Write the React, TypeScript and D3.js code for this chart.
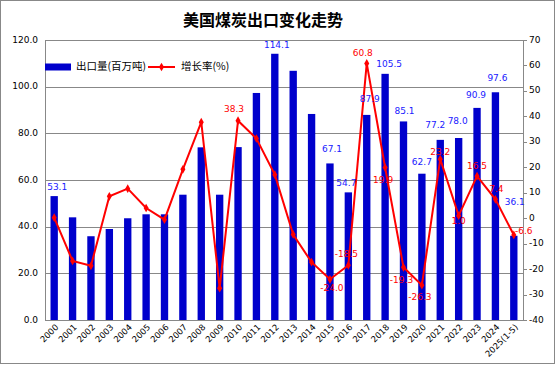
import React from "react";
import * as d3 from "d3";

// data
const years = ["2000", "2001", "2002", "2003", "2004", "2005", "2006", "2007", "2008", "2009", "2010", "2011", "2012", "2013", "2014", "2015", "2016", "2017", "2018", "2019", "2020", "2021", "2022", "2023", "2024", "2025(1-5)"];
const exports = [53.1, 44.0, 35.9, 39.0, 43.6, 45.3, 45.3, 53.7, 74.0, 53.7, 74.1, 97.3, 114.1, 106.8, 88.3, 67.1, 54.7, 87.9, 105.5, 85.1, 62.7, 77.2, 78.0, 90.9, 97.6, 36.1];
const growth = [0.2, -16.8, -18.7, 8.6, 11.6, 4.0, -0.6, 19.2, 37.7, -27.5, 38.3, 31.3, 17.1, -6.4, -17.3, -24.0, -18.5, 60.8, 19.9, -19.3, -26.3, 23.2, 1.0, 16.5, 7.4, -6.6];
const leftTicks = [0, 20, 40, 60, 80, 100, 120];
const rightTicks = [-40, -30, -20, -10, 0, 10, 20, 30, 40, 50, 60, 70];

// which labels are shown, with nudges (px) like the hand-placed Excel labels
const barLabelNudge: Record<string, [number, number]> = {
  "2000": [3, -9], "2012": [2, -8], "2015": [2, -14], "2016": [-2, -9], "2017": [3, -15],
  "2018": [4, -9], "2019": [1, -10], "2020": [0, -11], "2021": [-5, -14], "2022": [-1, -17],
  "2023": [-1, -12], "2024": [2, -14], "2025(1-5)": [1, -33],
};
const growthLabelNudge: Record<string, [number, number]> = {
  "2010": [-4, -11], "2015": [2, 9], "2016": [-2, -11], "2017": [-4, -9.5], "2018": [-2, 13],
  "2019": [-2, 13], "2020": [-2, 12], "2021": [0, -7], "2022": [0, 5.5], "2023": [0, -9.5],
  "2024": [1, -10], "2025(1-5)": [10, -3],
};

const W = 556, H = 366;
const left = 45, right = 523, top = 40, bottom = 320;
const font = "'DejaVu Sans', Verdana, sans-serif";
const cjk = "'Noto Sans CJK SC', sans-serif";

export default function App() {
  const x = d3.scaleBand().domain(years).range([left, right]);
  const yL = d3.scaleLinear().domain([0, 120]).range([bottom, top]);
  const yR = d3.scaleLinear().domain([-40, 70]).range([bottom, top]);
  const cx = (y: string) => x(y)! + x.bandwidth() / 2;
  const barW = x.bandwidth() * 0.4;

  const line = d3.line<number>()
    .x((_, i) => cx(years[i]))
    .y(d => yR(d));
  const diamond = d3.symbol().type(d3.symbolDiamond).size(22)();

  return (
    <svg width={W} height={H} style={{ position: "absolute", left: 0, top: 0, background: "#fff" }}>
      <rect x={0.5} y={0.5} width={W - 2} height={H - 3} fill="#fff" stroke="#888" />

      <text x={263} y={22} textAnchor="middle" dominantBaseline="middle" fontFamily={cjk} fontSize={16} fontWeight="bold">
        美国煤炭出口变化走势
      </text>

      {/* grid + frame */}
      {leftTicks.map(t => (
        <line key={t} x1={left} x2={right} y1={Math.round(yL(t)) + 0.5} y2={Math.round(yL(t)) + 0.5} stroke="#888" />
      ))}
      <line x1={left + 0.5} x2={left + 0.5} y1={top} y2={bottom} stroke="#888" />
      <line x1={right + 0.5} x2={right + 0.5} y1={top} y2={bottom} stroke="#888" />

      {/* left axis labels */}
      {leftTicks.map(t => (
        <text key={t} x={38} y={yL(t)} textAnchor="end" dominantBaseline="middle" fontFamily={font} fontSize={9}>
          {t.toFixed(1)}
        </text>
      ))}

      {/* right axis */}
      {rightTicks.map(t => (
        <g key={t}>
          <line x1={right} x2={right + 4} y1={Math.round(yR(t)) + 0.5} y2={Math.round(yR(t)) + 0.5} stroke="#888" />
          <text x={529} y={yR(t)} dominantBaseline="middle" fontFamily={font} fontSize={9}>{t}</text>
        </g>
      ))}

      {/* bars */}
      {years.map((y, i) => (
        <rect key={y} x={cx(y) - barW / 2} y={yL(exports[i])} width={barW} height={bottom - yL(exports[i])} fill="#0000cc" />
      ))}

      {/* growth line */}
      <path d={line(growth)!} fill="none" stroke="#ff0000" strokeWidth={2} />
      {growth.map((g, i) => (
        <path key={i} d={diamond!} transform={`translate(${cx(years[i])},${yR(g)})`} fill="#ff0000" />
      ))}

      {/* bar labels */}
      {years.map((y, i) => barLabelNudge[y] && (
        <text key={y} x={cx(y) + barLabelNudge[y][0]} y={yL(exports[i]) + barLabelNudge[y][1]}
          textAnchor="middle" dominantBaseline="middle" fontFamily={font} fontSize={9} fill="#2020ff">
          {exports[i].toFixed(1)}
        </text>
      ))}

      {/* growth labels */}
      {years.map((y, i) => growthLabelNudge[y] && (
        <text key={y} x={cx(y) + growthLabelNudge[y][0]} y={yR(growth[i]) + growthLabelNudge[y][1]}
          textAnchor="middle" dominantBaseline="middle" fontFamily={font} fontSize={9} fill="#ff0000">
          {growth[i].toFixed(1)}
        </text>
      ))}

      {/* x labels */}
      {years.map(y => (
        <text key={y} transform={`translate(${cx(y) + 3},${bottom + 6}) rotate(-45)`} textAnchor="end"
          dominantBaseline="middle" fontFamily={font} fontSize={8.5}>
          {y}
        </text>
      ))}

      {/* legend */}
      <rect x={45} y={63.5} width={26} height={7} fill="#0000cc" />
      <text x={76} y={67.5} dominantBaseline="middle" fontFamily={cjk} fontSize={10.5}>出口量(百万吨)</text>
      <line x1={148} x2={175} y1={67} y2={67} stroke="#ff0000" strokeWidth={2} />
      <path d={diamond!} transform="translate(161.5,67)" fill="#ff0000" />
      <text x={181} y={67.5} dominantBaseline="middle" fontFamily={cjk} fontSize={10.5}>增长率(%)</text>
    </svg>
  );
}
